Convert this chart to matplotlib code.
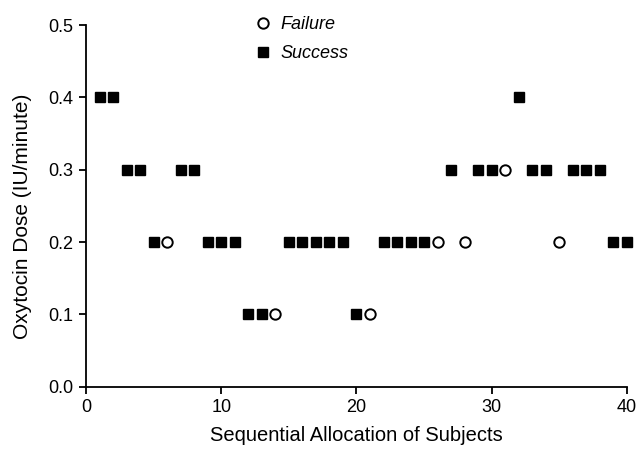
import numpy as np
import matplotlib.pyplot as plt

plt.rcParams['font.family'] = ['Liberation Sans', 'DejaVu Sans']

# subject order, dose given, outcome (S = success, F = failure)
subjects = list(range(1, 41))
doses = [0.4, 0.4, 0.3, 0.3, 0.2, 0.2, 0.3, 0.3, 0.2, 0.2,
         0.2, 0.1, 0.1, 0.1, 0.2, 0.2, 0.2, 0.2, 0.2, 0.1,
         0.1, 0.2, 0.2, 0.2, 0.2, 0.2, 0.3, 0.2, 0.3, 0.3,
         0.3, 0.4, 0.3, 0.3, 0.2, 0.3, 0.3, 0.3, 0.2, 0.2]
outcomes = ['S', 'S', 'S', 'S', 'S', 'F', 'S', 'S', 'S', 'S',
            'S', 'S', 'S', 'F', 'S', 'S', 'S', 'S', 'S', 'S',
            'F', 'S', 'S', 'S', 'S', 'F', 'S', 'F', 'S', 'S',
            'F', 'S', 'S', 'S', 'F', 'S', 'S', 'S', 'S', 'S']

x = np.array(subjects)
y = np.array(doses)
fail = np.array([o == 'F' for o in outcomes])

fig = plt.figure(figsize=(6.39, 4.55), dpi=100)
ax = fig.add_axes([0.1346, 0.150, 0.8466, 0.795])

ax.plot(x[fail], y[fail], 'o', ms=7.5, mfc='white', mec='black', mew=1.4,
        ls='none', label='Failure', clip_on=False)
ax.plot(x[~fail], y[~fail], 's', ms=7.5, color='black',
        ls='none', label='Success', clip_on=False)

ax.set_xlim(0, 40)
ax.set_ylim(0, 0.5)
ax.set_xticks([0, 10, 20, 30, 40])
ax.set_yticks([0.0, 0.1, 0.2, 0.3, 0.4, 0.5])
ax.set_yticklabels([f'{v:.1f}' for v in [0.0, 0.1, 0.2, 0.3, 0.4, 0.5]])

for side in ['top', 'right']:
    ax.spines[side].set_visible(False)
for side in ['left', 'bottom']:
    ax.spines[side].set_linewidth(1.3)
ax.tick_params(direction='out', length=5, width=1.3, labelsize=13, pad=4)

ax.set_xlabel('Sequential Allocation of Subjects', fontsize=14.5, labelpad=7)
ax.set_ylabel('Oxytocin Dose (IU/minute)', fontsize=15)
ax.yaxis.set_label_coords(-0.099, 0.47)

leg = ax.legend(loc='upper left', bbox_to_anchor=(0.3105, 1.025), frameon=False,
                prop={'style': 'italic', 'size': 13}, handletextpad=0.45,
                labelspacing=0.67, handlelength=1.0, borderpad=0, borderaxespad=0)

fig.savefig('out.png', dpi=100)
